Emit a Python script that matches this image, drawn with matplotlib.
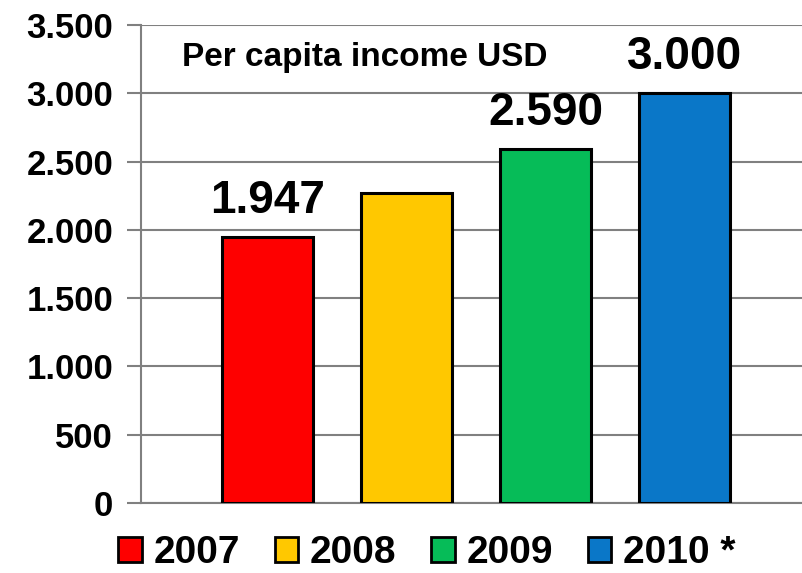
import matplotlib.pyplot as plt
from matplotlib.patches import Patch
from matplotlib.ticker import FuncFormatter

plt.rcParams['font.family'] = ['Liberation Sans', 'DejaVu Sans']
plt.rcParams['font.weight'] = 'bold'

years = ['2007', '2008', '2009', '2010 *']
income = [1947, 2270, 2590, 3000]
value_labels = ['1.947', '', '2.590', '3.000']
colors = ['#FE0000', '#FFC800', '#06BC58', '#0A77C8']
yticks = [0, 500, 1000, 1500, 2000, 2500, 3000, 3500]

fig = plt.figure(figsize=(8.03, 5.73), dpi=100)
ax = fig.add_axes([0.1756, 0.1222, 0.8244, 0.8342])

x = range(len(years))
bars = ax.bar(x, income, width=0.655, color=colors, edgecolor='black',
              linewidth=2.2, zorder=3)

for b, lab in zip(bars, value_labels):
    if lab:
        ax.annotate(lab, (b.get_x() + b.get_width() / 2, b.get_height()),
                    xytext=(0, 10), textcoords='offset points',
                    ha='center', va='bottom', fontsize=33, fontweight='bold')

ax.set_xlim(-0.91, 3.85)
ax.set_ylim(0, 3500)
ax.set_yticks(yticks)
ax.yaxis.set_major_formatter(FuncFormatter(lambda v, p: f'{int(v):,}'.replace(',', '.')))
ax.tick_params(axis='y', labelsize=25, length=10, width=1.5, color='#808080', pad=10)
ax.set_xticks([])
ax.grid(axis='y', color='#808080', linewidth=1.5, zorder=0)
for s in ['top', 'right']:
    ax.spines[s].set_visible(False)
ax.spines['left'].set_color('#808080')
ax.spines['left'].set_linewidth(1.5)
ax.spines['bottom'].set_color('#808080')
ax.spines['bottom'].set_linewidth(1.5)

ax.text(0.338, 0.933, 'Per capita income USD', transform=ax.transAxes,
        ha='center', va='center', fontsize=24, fontweight='bold')

handles = [Patch(facecolor=c, edgecolor='black', linewidth=2) for c in colors]
fig.legend(handles, years, loc='center', bbox_to_anchor=(427 / 803, 1 - 553 / 573),
           ncol=4, frameon=False, handlelength=0.6, handleheight=0.6,
           handletextpad=0.3, columnspacing=0.9, prop={'weight': 'bold', 'size': 28})

fig.savefig('out.png', dpi=100)
